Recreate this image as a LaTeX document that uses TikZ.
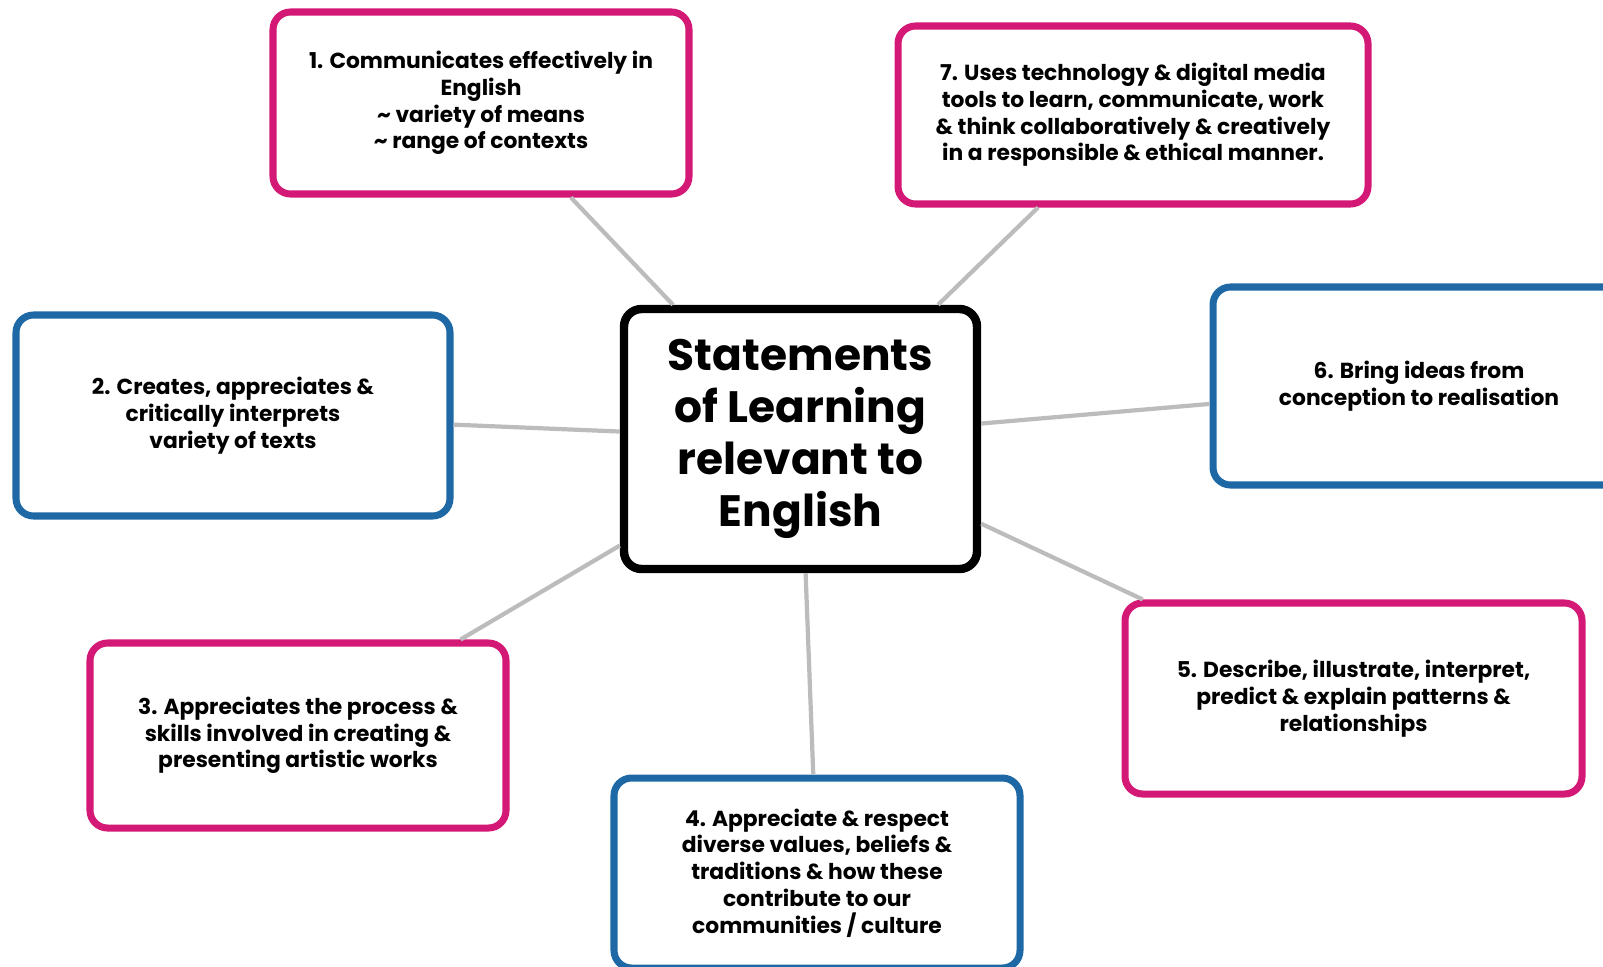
\documentclass[tikz,border=0pt]{standalone}
\usepackage{fontspec}
\setmainfont{Poppins}
\usepackage{tikz}
\usetikzlibrary{positioning}
\definecolor{slpink}{RGB}{212,24,118}
\definecolor{slblue}{RGB}{30,105,165}
\definecolor{slgray}{RGB}{188,188,188}

\begin{document}
\begin{tikzpicture}[
  solbox/.style={draw, fill=white, rounded corners=5pt, line width=2pt,
    font=\bfseries\fontsize{6.2}{7.6}\selectfont, align=center, inner sep=0pt},
  pinkbox/.style={solbox, draw=slpink},
  bluebox/.style={solbox, draw=slblue},
  hub/.style={draw, fill=white, rounded corners=5pt, line width=2.4pt,
    font=\bfseries\fontsize{12.5}{14.8}\selectfont, align=center,
    minimum width=3.53cm, minimum height=2.6cm},
  spoke/.style={slgray, line width=1.2pt}]
\useasboundingbox (0,0) rectangle (16.03,9.66);
% Nodes
\node[hub] (sol) at (8.005,5.27) {Statements\\of Learning\\relevant to\\English};
\node[pinkbox, minimum width=4.16cm, minimum height=1.82cm] (s1) at (4.81,8.63)
  {1. Communicates effectively in\\English\\\textasciitilde{} variety of means\\\textasciitilde{} range of contexts};
\node[bluebox, minimum width=4.34cm, minimum height=2.01cm] (s2) at (2.33,5.505)
  {2. Creates, appreciates \&\\critically interprets\\variety of texts};
\node[pinkbox, minimum width=4.16cm, minimum height=1.85cm] (s3) at (2.98,2.305)
  {3. Appreciates the process \&\\skills involved in creating \&\\presenting artistic works};
\node[bluebox, minimum width=4.06cm, minimum height=1.90cm] (s4) at (8.17,0.93)
  {4. Appreciate \& respect\\diverse values, beliefs \&\\traditions \& how these\\contribute to our\\communities / culture};
\node[pinkbox, minimum width=4.57cm, minimum height=1.91cm] (s5) at (13.535,2.675)
  {5. Describe, illustrate, interpret,\\predict \& explain patterns \&\\relationships};
\node[bluebox, minimum width=4.12cm, minimum height=1.98cm] (s6) at (14.19,5.80)
  {6. Bring ideas from\\conception to realisation};
\node[pinkbox, minimum width=4.70cm, minimum height=1.78cm] (s7) at (11.33,8.51)
  {7. Uses technology \& digital media\\tools to learn, communicate, work\\\& think collaboratively \& creatively\\in a responsible \& ethical manner.};
% Connectors
\foreach \s in {s1,s2,s3,s4,s5,s6,s7}
  \draw[spoke] (\s) -- (sol);
\end{tikzpicture}
\end{document}
